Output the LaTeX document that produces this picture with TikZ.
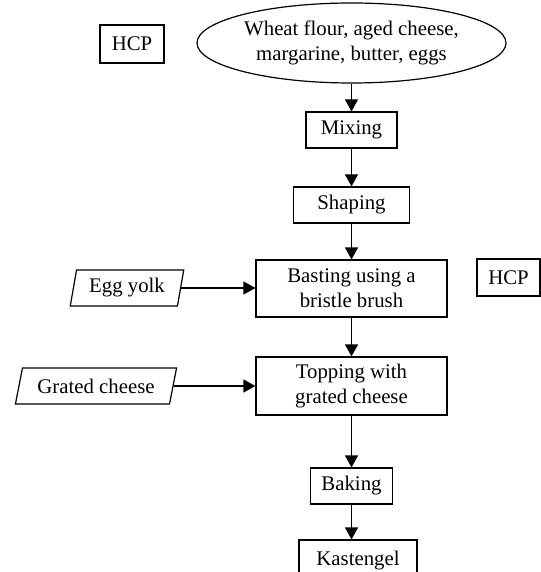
\documentclass[tikz,border=0pt]{standalone}
\usepackage{fontspec}
\setmainfont{Liberation Serif}
\usepackage{tikz}
\usetikzlibrary{shapes,arrows,positioning,calc,arrows.meta}

\begin{document}
\begin{tikzpicture}[x=0.5pt,y=-0.5pt,
    font=\fontsize{10.4}{12.5}\selectfont,
    every node/.style={inner sep=0pt, align=center},
    stepbox/.style={draw, line width=0.6pt, rectangle},
    inbox/.style={draw, line width=0.6pt, trapezium, trapezium stretches=true, minimum height=18pt},
    flow/.style={line width=0.6pt, -{Triangle[length=6pt,width=6.5pt]}}]
    \useasboundingbox (0,0) rectangle (540,572);

    % ingredients and control points
    \node[draw, line width=0.6pt, ellipse, minimum width=154.5pt, minimum height=40pt] (ingr) at (351.5,43)
        {Wheat flour, aged cheese,\\margarine, butter, eggs};
    \node[stepbox, minimum width=32pt, minimum height=19pt] (hcpA) at (132,44) {HCP};
    \node[stepbox, minimum width=31.5pt, minimum height=18.5pt] (hcpB) at (508.5,277.5) {HCP};

    % main steps
    \node[stepbox, minimum width=45.5pt, minimum height=18pt] (mix) at (351.5,130) {Mixing};
    \node[stepbox, minimum width=58pt, minimum height=18pt] (shape) at (351.5,205) {Shaping};
    \node[stepbox, minimum width=95.5pt, minimum height=28.5pt] (baste) at (351.5,288.5) {Basting using a\\bristle brush};
    \node[stepbox, minimum width=95.5pt, minimum height=29pt] (top) at (351.5,386) {Topping with\\grated cheese};
    \node[stepbox, minimum width=41pt, minimum height=18pt] (bake) at (351.5,486) {Baking};
    \node[stepbox, minimum width=59pt, minimum height=21pt] (kast) at (358,561) {Kastengel};

    % side inputs
    \node[inbox, trapezium left angle=76, trapezium right angle=104, minimum width=57pt] (yolk) at (127,288) {Egg yolk};
    \node[inbox, trapezium left angle=69, trapezium right angle=111, minimum width=81pt] (grate) at (96,386) {Grated cheese};

    % arrows
    \draw[flow] (ingr) -- (mix);
    \draw[flow] (mix) -- (shape);
    \draw[flow] (shape) -- (baste);
    \draw[flow] (baste) -- (top);
    \draw[flow] (top) -- (bake);
    \draw[flow] (bake.south) -- (bake.south |- kast.north);
    \draw[flow] (yolk.east) -- (yolk.east -| baste.west);
    \draw[flow] (grate.east) -- (grate.east -| top.west);
\end{tikzpicture}
\end{document}
